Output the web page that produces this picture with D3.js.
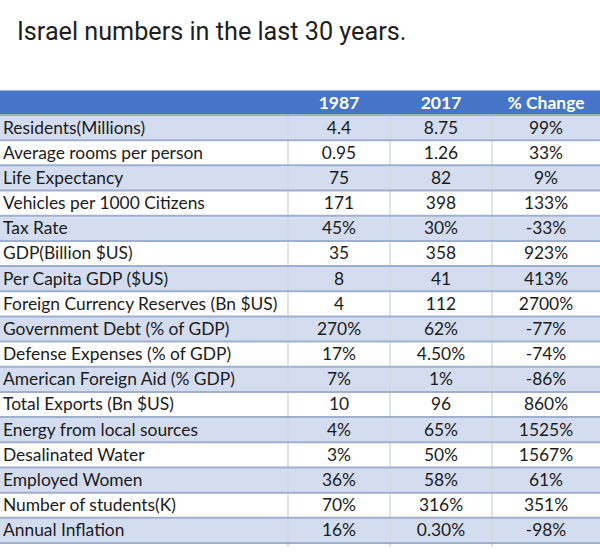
<!DOCTYPE html>
<html>
<head>
<meta charset="utf-8">
<script src="https://cdn.jsdelivr.net/npm/d3@7.9.0/dist/d3.min.js"></script>
<style>
  body { margin: 0; background: #fff; }
  svg { display: block; }
</style>
</head>
<body>
<svg id="chart" width="600" height="560"></svg>
<script>
const title = 'Israel numbers in the last 30 years.';
const columns = ['1987', '2017', '% Change'];
const indicators = [
    'Residents(Millions)', 'Average rooms per person', 'Life Expectancy',
    'Vehicles per 1000 Citizens', 'Tax Rate', 'GDP(Billion $US)',
    'Per Capita GDP ($US)', 'Foreign Currency Reserves (Bn $US)',
    'Government Debt (% of GDP)', 'Defense Expenses (% of GDP)',
    'American Foreign Aid (% GDP)', 'Total Exports (Bn $US)',
    'Energy from local sources', 'Desalinated Water', 'Employed Women',
    'Number of students(K)', 'Annual Inflation'
];
const values1987 = ['4.4', '0.95', '75', '171', '45%', '35', '8', '4', '270%', '17%', '7%', '10', '4%', '3%', '36%', '70%', '16%'];
const values2017 = ['8.75', '1.26', '82', '398', '30%', '358', '41', '112', '62%', '4.50%', '1%', '96', '65%', '50%', '58%', '316%', '0.30%'];
const changes = ['99%', '33%', '9%', '133%', '-33%', '923%', '413%', '2700%', '-77%', '-74%', '-86%', '860%', '1525%', '1567%', '61%', '351%', '-98%'];

const svg = d3.select('#chart');
const font = 'Lato, "Open Sans", sans-serif';

svg.append('text')
    .attr('x', 17).attr('y', 40)
    .attr('font-family', 'Roboto, sans-serif')
    .attr('font-size', 25.2)
    .attr('fill', '#1e1e1e')
    .text(title);

// row and column scales
const headerTop = 90, headerH = 25;
const y = d3.scaleBand().domain(d3.range(indicators.length)).range([115, 543]);
const colEdges = [0, 288, 390, 492, 600];
const x = d3.scaleOrdinal().domain(['label', ...columns]).range(colEdges.slice(0, 4));
const colW = (i) => colEdges[i + 1] - colEdges[i];

// header
svg.append('rect')
    .attr('x', 0).attr('y', headerTop)
    .attr('width', 600).attr('height', headerH)
    .attr('fill', '#4674c6');
svg.append('line')
    .attr('x1', 0).attr('x2', 600).attr('y1', headerTop + 0.5).attr('y2', headerTop + 0.5)
    .attr('stroke', '#9fb6e0');

svg.selectAll('.head')
    .data(columns)
    .join('text')
    .attr('class', 'head')
    .attr('x', (d, i) => x(d) + colW(i + 1) / 2)
    .attr('y', headerTop + 19)
    .attr('text-anchor', 'middle')
    .attr('font-family', font)
    .attr('font-weight', 'bold')
    .attr('font-size', 17.5)
    .attr('fill', '#fff')
    .text(d => d);

// row backgrounds
const rows = svg.selectAll('.row')
    .data(indicators)
    .join('g')
    .attr('class', 'row')
    .attr('transform', (d, i) => `translate(0,${y(i)})`);

rows.append('rect')
    .attr('width', 600)
    .attr('height', y.bandwidth())
    .attr('fill', (d, i) => i % 2 === 0 ? '#d4ddf0' : '#ffffff');

// vertical dividers, visible on white rows and below the table
[1, 2, 3].forEach(ci => {
    svg.append('line')
        .attr('x1', colEdges[ci]).attr('x2', colEdges[ci])
        .attr('y1', 115).attr('y2', 547)
        .attr('stroke', '#d3d8e2')
        .attr('stroke-width', 1.5);
});
rows.filter((d, i) => i % 2 === 0).append('rect')
    .attr('x', 0).attr('y', 1)
    .attr('width', 600)
    .attr('height', y.bandwidth() - 1)
    .attr('fill', '#d4ddf0');

// horizontal row lines
svg.selectAll('.hline')
    .data(d3.range(indicators.length + 1))
    .join('line')
    .attr('class', 'hline')
    .attr('x1', 0).attr('x2', 600)
    .attr('y1', i => i < indicators.length ? y(i) : y.range()[1])
    .attr('y2', i => i < indicators.length ? y(i) : y.range()[1])
    .attr('stroke', '#9fb0cf')
    .attr('stroke-width', 2);

// cell text
rows.append('text')
    .attr('x', 3)
    .attr('y', 18.5)
    .attr('font-family', font)
    .attr('font-size', 17.4)
    .attr('fill', '#1b1b1b')
    .text(d => d);

const cols = [values1987, values2017, changes];
cols.forEach((vals, ci) => {
    rows.append('text')
        .attr('x', x(columns[ci]) + colW(ci + 1) / 2)
        .attr('y', 18.5)
        .attr('text-anchor', 'middle')
        .attr('font-family', font)
        .attr('font-size', 17.4)
        .attr('fill', '#1b1b1b')
        .text((d, i) => vals[i]);
});
</script>
</body>
</html>
